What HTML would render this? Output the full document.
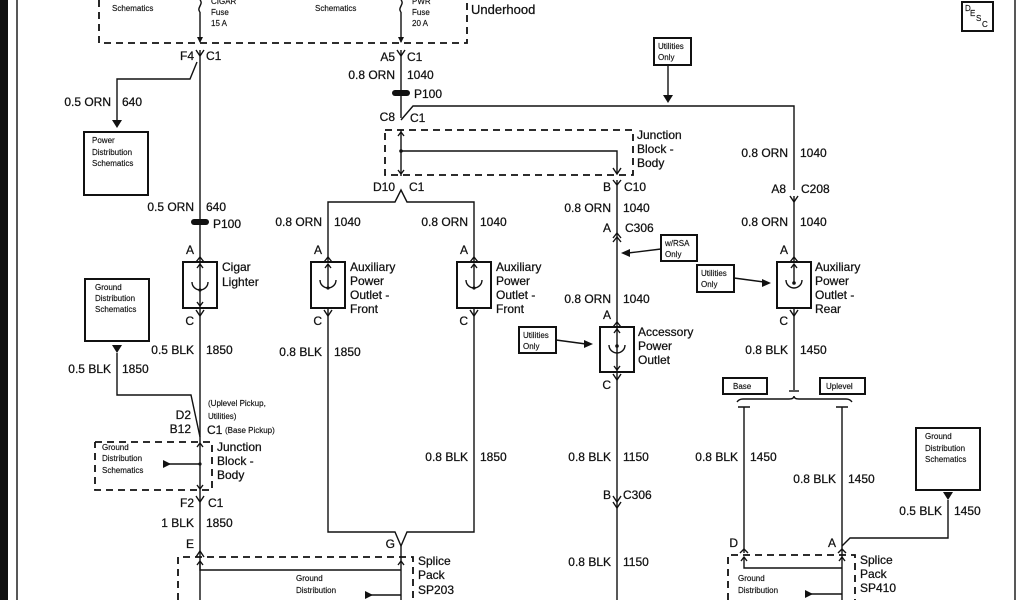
<!DOCTYPE html>
<html><head><meta charset="utf-8"><style>
html,body{margin:0;padding:0;background:#fff;}
svg{display:block;}
text{font-family:"Liberation Sans",Arial,sans-serif;font-size:12px;fill:#111;stroke:#111;stroke-width:0.25;}
.s{font-size:8px;stroke-width:0.15;}
.m{font-size:13px;}
.e{text-anchor:end;}
line,polyline,path,rect{stroke:#111;fill:none;stroke-width:1.4;}
.d{stroke-dasharray:7,5;stroke-width:1.8;}
.b{stroke-width:2;}
.f{fill:#111;stroke:none;}
</style></head><body>
<svg width="1024" height="600" viewBox="0 0 1024 600" xmlns="http://www.w3.org/2000/svg">
<rect x="0" y="0" width="8" height="600" class="f"/>
<line x1="17" y1="0" x2="17" y2="600"/>
<line x1="1015" y1="0" x2="1015" y2="600"/>
<polyline class="d" points="99,0 99,43 467,43 467,0"/>
<text class="s" x="112" y="11">Schematics</text>
<text class="s" x="315" y="11">Schematics</text>
<text class="s" x="211" y="4">CIGAR</text><text class="s" x="211" y="15">Fuse</text><text class="s" x="211" y="26">15 A</text>
<text class="s" x="412" y="4">PWR</text><text class="s" x="412" y="15">Fuse</text><text class="s" x="412" y="26">20 A</text>
<path d="M200,0 c4,4 -4,8 0,12 M401,0 c4,4 -4,8 0,12"/>
<line x1="200" y1="12" x2="200" y2="42"/><line x1="401" y1="12" x2="401" y2="42"/>
<path class="f" d="M197,37 L203,37 L200,43Z M398,37 L404,37 L401,43Z"/>
<text class="m" x="471" y="14">Underhood</text>
<rect x="962" y="2" width="31" height="29" class="b"/>
<text class="s" x="965" y="11">D</text><text class="s" x="970" y="16">E</text><text class="s" x="976" y="21">S</text><text class="s" x="982" y="27">C</text>
<!-- left column -->
<text class="e" x="194" y="60">F4</text><text x="206" y="60">C1</text>
<path d="M196,50 L200,56 L204,50"/>
<line x1="200" y1="50" x2="200" y2="600"/>
<polyline points="197,62 190,79 117,79 117,122"/><path class="f" d="M112,120 L122,120 L117,128Z"/>
<text class="e" x="111" y="106">0.5 ORN</text><text x="122" y="106">640</text>
<rect x="84" y="132" width="64" height="63" class="b"/>
<text class="s" x="92" y="143">Power</text><text class="s" x="92" y="155">Distribution</text><text class="s" x="92" y="166">Schematics</text>
<text class="e" x="194" y="211">0.5 ORN</text><text x="206" y="211">640</text>
<rect x="191" y="219" width="18" height="6" rx="3" class="f"/>
<text x="213" y="228">P100</text>
<text class="e" x="194" y="254">A</text><path d="M196,262 L200,257 L204,262"/>
<rect x="183" y="262" width="34" height="46" class="b"/>
<path d="M192,282 a8,8 0 0 0 16,0"/><circle cx="200" cy="290" r="1.6" class="f"/>
<path d="M197,268 L200,264 L203,268 M197,302 L200,306 L203,302"/>
<text x="222" y="271">Cigar</text><text x="222" y="286">Lighter</text>
<text class="e" x="194" y="325">C</text><path d="M196,310 L200,316 L204,310"/>
<text class="e" x="194" y="354">0.5 BLK</text><text x="206" y="354">1850</text>
<rect x="85" y="279" width="64" height="62" class="b"/>
<text class="s" x="95" y="290">Ground</text><text class="s" x="95" y="301">Distribution</text><text class="s" x="95" y="312">Schematics</text>
<path class="f" d="M112,345 L122,345 L117,353Z"/>
<polyline points="117,353 117,395 191,395 200,437"/>
<text class="e" x="111" y="373">0.5 BLK</text><text x="122" y="373">1850</text>
<text class="s" x="208" y="406">(Uplevel Pickup,</text><text class="s" x="208" y="419">Utilities)</text>
<text class="e" x="191" y="419">D2</text><text class="e" x="191" y="433">B12</text><text x="207" y="434">C1</text><text class="s" x="225" y="433">(Base Pickup)</text>
<polyline class="d" points="95,442 212,442 212,490 95,490 95,442"/>
<path d="M197,447 L200,443 L203,447 M197,485 L200,489 L203,485"/>
<line x1="165" y1="464" x2="200" y2="464"/><path class="f" d="M163,460 L171,464 L163,468Z"/><circle cx="200" cy="464" r="1.6" class="f"/>
<text class="s" x="102" y="450">Ground</text><text class="s" x="102" y="461">Distribution</text><text class="s" x="102" y="473">Schematics</text>
<text x="217" y="451">Junction</text><text x="217" y="465">Block -</text><text x="217" y="479">Body</text>
<text class="e" x="194" y="507">F2</text><text x="208" y="507">C1</text>
<path d="M196,496 L200,502 L204,496"/>
<text class="e" x="194" y="527">1 BLK</text><text x="206" y="527">1850</text>
<text class="e" x="194" y="548">E</text><path d="M196,557 L200,551 L204,557"/>
<polyline class="d" points="178,600 178,557 413,557 413,600"/>
<polyline points="200,562 200,570 401,570"/><path d="M197,565 L200,561 L203,565 M398,565 L401,561 L404,565"/>
<text class="s" x="296" y="581">Ground</text><text class="s" x="296" y="593">Distribution</text>
<line x1="365" y1="595" x2="401" y2="595"/><path class="f" d="M365,591 L373,595 L365,599Z"/>
<text x="418" y="565">Splice</text><text x="418" y="579">Pack</text><text x="418" y="594">SP203</text>
<!-- center column 401 -->
<text class="e" x="395" y="61">A5</text><text x="407" y="61">C1</text>
<path d="M397,50 L401,56 L405,50"/>
<line x1="401" y1="50" x2="401" y2="118"/>
<text class="e" x="395" y="79">0.8 ORN</text><text x="407" y="79">1040</text>
<rect x="392" y="90" width="18" height="6" rx="3" class="f"/><text x="414" y="98">P100</text>
<text class="e" x="395" y="121">C8</text><text x="410" y="122">C1</text>
<polyline points="401,120 413,106 794,106 794,190"/>
<line x1="668" y1="65" x2="668" y2="96"/><path class="f" d="M663,95 L673,95 L668,103Z"/>
<rect x="654" y="38" width="37" height="27" class="b"/>
<text class="s" x="658" y="49">Utilities</text><text class="s" x="658" y="60">Only</text>
<polyline class="d" points="385,130 633,130 633,175 385,175 385,130"/>
<line x1="401" y1="130" x2="401" y2="176"/>
<path d="M398,136 L401,132 L404,136 M398,170 L401,174 L404,170"/>
<polyline points="401,151 617,151 617,174"/><circle cx="401" cy="151" r="1.8" class="f"/>
<path d="M613,168 L617,174 L621,168"/>
<text x="637" y="139">Junction</text><text x="637" y="153">Block -</text><text x="637" y="167">Body</text>
<text class="e" x="395" y="191">D10</text><text x="409" y="191">C1</text>
<polyline points="328,262 328,202 395,202 401,190 407,202 474,202 474,262"/>
<text class="e" x="322" y="226">0.8 ORN</text><text x="334" y="226">1040</text>
<text class="e" x="468" y="226">0.8 ORN</text><text x="480" y="226">1040</text>
<text class="e" x="322" y="254">A</text><text class="e" x="468" y="254">A</text>
<path d="M324,262 L328,257 L332,262 M470,262 L474,257 L478,262"/>
<rect x="311" y="262" width="34" height="46" class="b"/><rect x="457" y="262" width="34" height="46" class="b"/>
<path d="M320,280 a8,8 0 0 0 16,0 M466,280 a8,8 0 0 0 16,0"/>
<path d="M328,264 L328,288 M474,264 L474,288 M325,268 L328,264 L331,268 M471,268 L474,264 L477,268"/>
<circle cx="328" cy="288" r="1.6" class="f"/><circle cx="474" cy="288" r="1.6" class="f"/>
<text x="350" y="271">Auxiliary</text><text x="350" y="285">Power</text><text x="350" y="299">Outlet -</text><text x="350" y="313">Front</text>
<text x="496" y="271">Auxiliary</text><text x="496" y="285">Power</text><text x="496" y="299">Outlet -</text><text x="496" y="313">Front</text>
<text class="e" x="322" y="325">C</text><text class="e" x="468" y="325">C</text>
<path d="M324,310 L328,316 L332,310 M470,310 L474,316 L478,310"/>
<polyline points="328,308 328,532 395,532 401,546 407,532 474,532 474,308"/>
<text class="e" x="322" y="356">0.8 BLK</text><text x="334" y="356">1850</text>
<text class="e" x="468" y="461">0.8 BLK</text><text x="480" y="461">1850</text>
<text class="e" x="395" y="548">G</text>
<line x1="401" y1="546" x2="401" y2="600"/>
<!-- column 617 -->
<text class="e" x="611" y="191">B</text><text x="624" y="191">C10</text>
<path d="M613,180 L617,185 L621,180"/>
<line x1="617" y1="180" x2="617" y2="600"/>
<text class="e" x="611" y="212">0.8 ORN</text><text x="623" y="212">1040</text>
<text class="e" x="611" y="232">A</text><text x="625" y="232">C306</text>
<path d="M613,238 L617,233 L621,238 M613,242 L617,237 L621,242"/>
<rect x="661" y="235" width="36" height="26" class="b"/>
<text class="s" x="665" y="246">w/RSA</text><text class="s" x="665" y="257">Only</text>
<line x1="661" y1="249" x2="628" y2="253"/><path class="f" d="M621,253 L630,249 L630,257Z"/>
<text class="e" x="611" y="303">0.8 ORN</text><text x="623" y="303">1040</text>
<text class="e" x="611" y="319">A</text>
<path d="M613,327 L617,322 L621,327"/>
<rect x="600" y="327" width="34" height="45" class="b"/>
<path d="M609,345 a8,8 0 0 0 16,0"/><circle cx="617" cy="346" r="1.8" class="f"/>
<path d="M614,333 L617,329 L620,333 M614,366 L617,370 L620,366"/>
<text x="638" y="336">Accessory</text><text x="638" y="350">Power</text><text x="638" y="364">Outlet</text>
<rect x="519" y="327" width="37" height="26" class="b"/>
<text class="s" x="523" y="338">Utilities</text><text class="s" x="523" y="349">Only</text>
<line x1="556" y1="340" x2="586" y2="344"/><path class="f" d="M593,344 L584,340 L584,348Z"/>
<text class="e" x="611" y="389">C</text>
<path d="M613,374 L617,380 L621,374"/>
<text class="e" x="611" y="461">0.8 BLK</text><text x="623" y="461">1150</text>
<text class="e" x="611" y="499">B</text><text x="623" y="499">C306</text>
<path d="M613,496 L617,502 L621,496 M613,502 L617,508 L621,502"/>
<text class="e" x="611" y="566">0.8 BLK</text><text x="623" y="566">1150</text>
<!-- right column 794 -->
<text class="e" x="788" y="157">0.8 ORN</text><text x="800" y="157">1040</text>
<text class="e" x="786" y="193">A8</text><text x="801" y="193">C208</text>
<path d="M790,196 L794,202 L798,196"/>
<line x1="794" y1="196" x2="794" y2="262"/>
<text class="e" x="788" y="226">0.8 ORN</text><text x="800" y="226">1040</text>
<text class="e" x="788" y="254">A</text>
<path d="M790,262 L794,257 L798,262"/>
<rect x="777" y="262" width="34" height="46" class="b"/>
<path d="M786,280 a8,8 0 0 0 16,0"/><circle cx="794" cy="283" r="1.8" class="f"/>
<path d="M794,264 L794,283 M791,268 L794,264 L797,268"/>
<text x="815" y="271">Auxiliary</text><text x="815" y="285">Power</text><text x="815" y="299">Outlet -</text><text x="815" y="313">Rear</text>
<rect x="697" y="265" width="37" height="27" class="b"/>
<text class="s" x="701" y="276">Utilities</text><text class="s" x="701" y="287">Only</text>
<line x1="734" y1="278" x2="764" y2="282"/><path class="f" d="M771,283 L762,279 L762,287Z"/>
<text class="e" x="788" y="325">C</text>
<path d="M790,310 L794,316 L798,310"/>
<line x1="794" y1="308" x2="794" y2="390"/>
<text class="e" x="788" y="354">0.8 BLK</text><text x="800" y="354">1450</text>
<path d="M789,391 L799,391"/>
<rect x="723" y="378" width="44" height="16" class="b"/><text class="s" x="733" y="389">Base</text>
<rect x="820" y="378" width="45" height="16" class="b"/><text class="s" x="826" y="389">Uplevel</text>
<path d="M737,402 q2,-3 6,-3 L789,399 q5,0 5,-3 q0,3 5,3 L846,399 q4,0 6,3"/>
<path d="M738,407 L750,407 M836,407 L848,407"/>
<line x1="744" y1="407" x2="744" y2="553"/><line x1="842" y1="407" x2="842" y2="600"/>
<text class="e" x="738" y="461">0.8 BLK</text><text x="750" y="461">1450</text>
<text class="e" x="836" y="483">0.8 BLK</text><text x="848" y="483">1450</text>
<rect x="916" y="428" width="64" height="62" class="b"/>
<text class="s" x="925" y="439">Ground</text><text class="s" x="925" y="451">Distribution</text><text class="s" x="925" y="462">Schematics</text>
<path class="f" d="M943,492 L953,492 L948,500Z"/>
<polyline points="948,500 948,538 850,538 842,546"/>
<text class="e" x="942" y="515">0.5 BLK</text><text x="954" y="515">1450</text>
<text class="e" x="738" y="547">D</text><text class="e" x="836" y="547">A</text>
<path d="M740,553 L744,549 L748,553 M838,553 L842,549 L846,553"/>
<polyline class="d" points="728,600 728,555 855,555 855,600"/>
<polyline points="744,557 744,568 842,568"/>
<path d="M741,561 L744,557 L747,561 M839,561 L842,557 L845,561"/>
<text class="s" x="738" y="581">Ground</text><text class="s" x="738" y="593">Distribution</text>
<line x1="805" y1="594" x2="842" y2="594"/><path class="f" d="M805,590 L813,594 L805,598Z"/>
<text x="860" y="564">Splice</text><text x="860" y="578">Pack</text><text x="860" y="592">SP410</text>
</svg>
</body></html>
